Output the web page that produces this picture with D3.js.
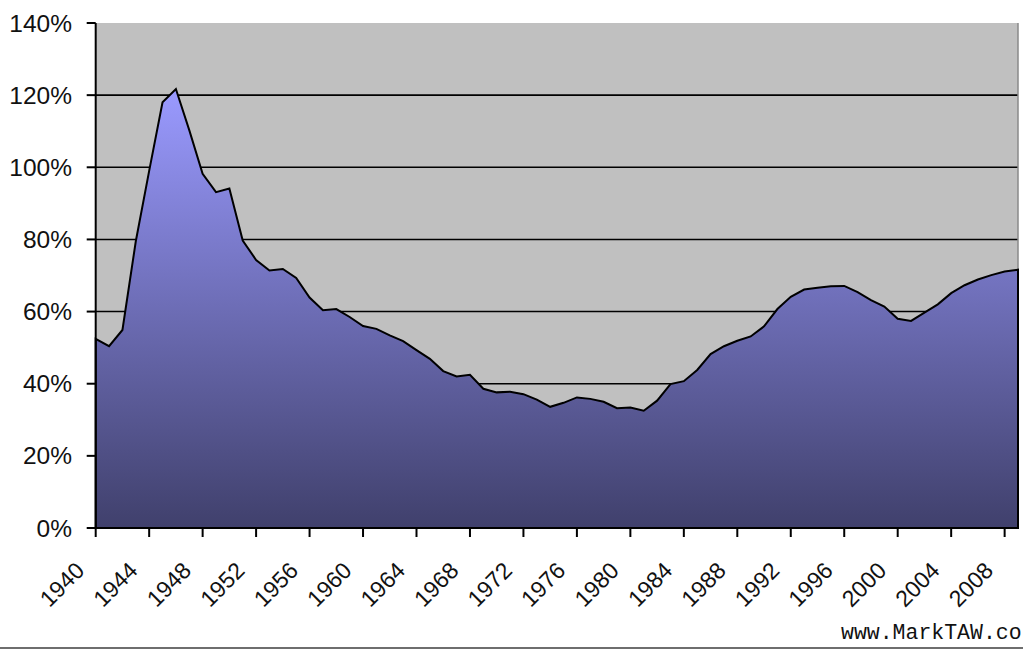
<!DOCTYPE html>
<html>
<head>
<meta charset="utf-8">
<script src="https://cdn.jsdelivr.net/npm/d3@7"></script>
<style>
  body { margin: 0; background: #fff; }
  svg { display: block; }
</style>
</head>
<body>
<div id="vis"></div>
<script>
// years on the category axis
const years = [1940, 1941, 1942, 1943, 1944, 1945, 1946, 1947, 1948, 1949,
  1950, 1951, 1952, 1953, 1954, 1955, 1956, 1957, 1958, 1959,
  1960, 1961, 1962, 1963, 1964, 1965, 1966, 1967, 1968, 1969,
  1970, 1971, 1972, 1973, 1974, 1975, 1976, 1977, 1978, 1979,
  1980, 1981, 1982, 1983, 1984, 1985, 1986, 1987, 1988, 1989,
  1990, 1991, 1992, 1993, 1994, 1995, 1996, 1997, 1998, 1999,
  2000, 2001, 2002, 2003, 2004, 2005, 2006, 2007, 2008, 2009];

// debt as share of GDP (%)
const debtPct = [52.4, 50.4, 54.9, 79.5, 99.0, 118.0, 121.7, 110.3, 98.2, 93.1,
  94.1, 79.7, 74.3, 71.4, 71.8, 69.3, 63.9, 60.4, 60.7, 58.5,
  56.0, 55.2, 53.4, 51.8, 49.3, 46.9, 43.5, 42.0, 42.5, 38.6,
  37.6, 37.8, 37.1, 35.6, 33.6, 34.7, 36.2, 35.8, 35.0, 33.2,
  33.4, 32.5, 35.3, 39.9, 40.7, 43.8, 48.2, 50.4, 51.9, 53.1,
  55.9, 60.7, 64.1, 66.1, 66.6, 67.0, 67.1, 65.4, 63.2, 61.4,
  58.0, 57.4, 59.7, 62.0, 65.1, 67.3, 68.9, 70.1, 71.1, 71.6];

const yTicks = [0, 20, 40, 60, 80, 100, 120, 140];
const xLabelYears = [1940, 1944, 1948, 1952, 1956, 1960, 1964, 1968, 1972,
  1976, 1980, 1984, 1988, 1992, 1996, 2000, 2004, 2008];

const data = years.map((yr, i) => ({ year: yr, value: debtPct[i] }));

const width = 1023, height = 651;
const plotLeft = 95.7, plotRight = 1018, plotTop = 23, plotBottom = 528;

const svg = d3.select('#vis')
  .append('svg')
  .attr('width', width)
  .attr('height', height);

const x = d3.scaleLinear()
  .domain([d3.min(years), d3.max(years)])
  .range([plotLeft, plotRight]);

const y = d3.scaleLinear()
  .domain([0, 140])
  .range([plotBottom, plotTop]);

// gradient for the area, light at the peak, dark at zero
const defs = svg.append('defs');
const grad = defs.append('linearGradient')
  .attr('id', 'areaGrad')
  .attr('gradientUnits', 'userSpaceOnUse')
  .attr('x1', 0).attr('x2', 0)
  .attr('y1', y(d3.max(debtPct)))
  .attr('y2', y(0));
grad.append('stop').attr('offset', '0%').attr('stop-color', '#9a9aff');
grad.append('stop').attr('offset', '100%').attr('stop-color', '#40406c');

// plot background
svg.append('rect')
  .attr('x', plotLeft)
  .attr('y', plotTop)
  .attr('width', plotRight - plotLeft)
  .attr('height', plotBottom - plotTop)
  .attr('fill', '#c0c0c0');

// horizontal gridlines
svg.selectAll('.grid')
  .data(yTicks.filter(t => t > 0 && t < 140))
  .enter()
  .append('line')
  .attr('class', 'grid')
  .attr('x1', plotLeft)
  .attr('x2', plotRight)
  .attr('y1', d => y(d))
  .attr('y2', d => y(d))
  .attr('stroke', '#000')
  .attr('stroke-width', 1.6);

// right edge of plot
svg.append('line')
  .attr('x1', plotRight).attr('x2', plotRight)
  .attr('y1', plotTop).attr('y2', plotBottom)
  .attr('stroke', '#8a8a8a')
  .attr('stroke-width', 1.5);

// the area
const area = d3.area()
  .x(d => x(d.year))
  .y0(y(0))
  .y1(d => y(d.value));

svg.append('path')
  .datum(data)
  .attr('d', area)
  .attr('fill', 'url(#areaGrad)')
  .attr('stroke', '#000')
  .attr('stroke-width', 2)
  .attr('stroke-linejoin', 'miter');

// y axis
svg.append('line')
  .attr('x1', plotLeft).attr('x2', plotLeft)
  .attr('y1', plotTop).attr('y2', plotBottom)
  .attr('stroke', '#000')
  .attr('stroke-width', 2);

svg.selectAll('.ytick')
  .data(yTicks)
  .enter()
  .append('line')
  .attr('class', 'ytick')
  .attr('x1', plotLeft - 9)
  .attr('x2', plotLeft)
  .attr('y1', d => y(d))
  .attr('y2', d => y(d))
  .attr('stroke', '#000')
  .attr('stroke-width', 2);

svg.selectAll('.ylabel')
  .data(yTicks)
  .enter()
  .append('text')
  .attr('class', 'ylabel')
  .attr('x', 72)
  .attr('y', d => y(d) + 8.5)
  .attr('text-anchor', 'end')
  .attr('font-family', 'Liberation Sans, Arial, sans-serif')
  .attr('font-size', '24.5px')
  .attr('fill', '#111')
  .text(d => d + '%');

// x axis
svg.append('line')
  .attr('x1', plotLeft).attr('x2', plotRight)
  .attr('y1', plotBottom).attr('y2', plotBottom)
  .attr('stroke', '#000')
  .attr('stroke-width', 2);

svg.selectAll('.xtick')
  .data(xLabelYears)
  .enter()
  .append('line')
  .attr('class', 'xtick')
  .attr('x1', d => x(d))
  .attr('x2', d => x(d))
  .attr('y1', plotBottom)
  .attr('y2', plotBottom + 9)
  .attr('stroke', '#000')
  .attr('stroke-width', 2);

svg.selectAll('.xlabel')
  .data(xLabelYears)
  .enter()
  .append('text')
  .attr('class', 'xlabel')
  .attr('transform', d => 'translate(' + (x(d) - 10) + ',' + (plotBottom + 44) + ') rotate(-45)')
  .attr('text-anchor', 'end')
  .attr('font-family', 'Liberation Sans, Arial, sans-serif')
  .attr('font-size', '23px')
  .attr('fill', '#111')
  .text(d => d);

// watermark (as much of it as the reference shows)
svg.append('text')
  .attr('x', 841)
  .attr('y', 639)
  .attr('font-family', 'Liberation Mono, Courier New, monospace')
  .attr('font-size', '21.5px')
  .attr('fill', '#111')
  .text('www.MarkTAW.co');

// bottom rule
svg.append('line')
  .attr('x1', 0).attr('x2', width)
  .attr('y1', 648).attr('y2', 648)
  .attr('stroke', '#6e6e6e')
  .attr('stroke-width', 2);
</script>
</body>
</html>
